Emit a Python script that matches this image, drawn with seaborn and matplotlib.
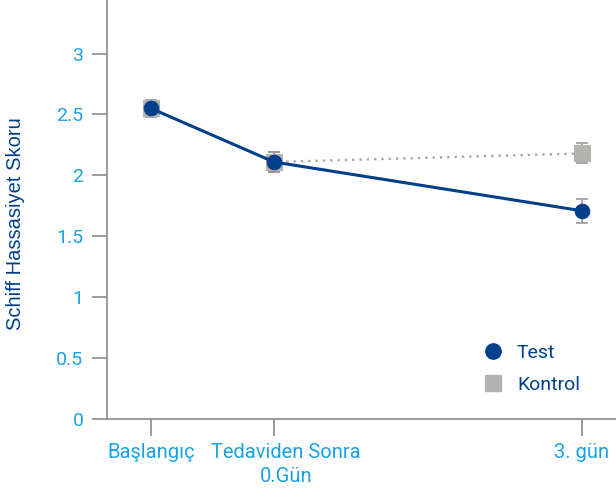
import numpy as np
import matplotlib
matplotlib.use("Agg")
import matplotlib.pyplot as plt
from matplotlib import transforms
import seaborn as sns
import pandas as pd
from matplotlib.lines import Line2D

# data
time_labels = ['Başlangıç', 'Tedaviden Sonra\n0.Gün', '3. gün']
time_pos = [0, 1, 3.5]
test_mean = [2.55, 2.11, 1.71]
test_err = [0.06, 0.08, 0.097]
kontrol_mean = [2.55, 2.11, 2.18]
kontrol_err = [0.07, 0.08, 0.082]
yticks = [0, 0.5, 1, 1.5, 2, 2.5, 3]

navy = '#00408a'
gray_sq = '#b5b3ad'
gray_line = '#a8a8a8'
tick_blue = '#1ba3e0'
spine_gray = '#8c8c8c'

sns.set_style('white')
plt.rcParams['font.family'] = ['Roboto', 'DejaVu Sans']

df = pd.DataFrame({
    'Zaman': time_pos * 2,
    'Skor': test_mean + kontrol_mean,
    'Grup': ['Test'] * 3 + ['Kontrol'] * 3,
})

fig = plt.figure(figsize=(6.16, 4.99), dpi=100)
ax = fig.add_axes([0.1737, 0.1603, 0.8263, 0.8397])

# error bars first, so markers sit on top
ax.errorbar(time_pos, kontrol_mean, yerr=kontrol_err, fmt='none', ecolor='#999999',
            elinewidth=1.2, capsize=4, capthick=1.2, zorder=2)
ax.errorbar(time_pos, test_mean, yerr=test_err, fmt='none', ecolor='#999999',
            elinewidth=1.2, capsize=4, capthick=1.2, zorder=2)

kon = df[df['Grup'] == 'Kontrol']
sns.lineplot(data=kon, x='Zaman', y='Skor', ax=ax, color=gray_line, linestyle=(0, (1, 2.1)),
             linewidth=1.7, marker='s', markersize=11, markerfacecolor=gray_sq,
             markeredgecolor=gray_sq, zorder=3)
tst = df[df['Grup'] == 'Test']
sns.lineplot(data=tst, x='Zaman', y='Skor', ax=ax, color=navy, linewidth=2.2,
             marker='o', markersize=10.5, markerfacecolor=navy, markeredgecolor=navy, zorder=4)

ax.set_xlim(-0.358, 3.78)
ax.set_ylim(0, 3.44)
ax.set_yticks(yticks)
ax.set_yticklabels([f'{t:g}' for t in yticks])
ax.set_xticks(time_pos)
ax.set_xticklabels(time_labels, linespacing=1.35)

ax.tick_params(axis='y', colors=spine_gray, labelcolor=tick_blue, labelsize=14,
               direction='out', length=11, width=1.2, pad=6, left=True)
ax.tick_params(axis='x', colors=spine_gray, labelcolor=tick_blue, labelsize=14.5,
               direction='out', length=12, width=1.2, pad=5, bottom=True)

# the middle label sits a little right of its tick in the reference
lab = ax.get_xticklabels()[1]
lab.set_transform(lab.get_transform() + transforms.ScaledTranslation(12 / 100, 0, fig.dpi_scale_trans))

for s in ['top', 'right']:
    ax.spines[s].set_visible(False)
for s in ['left', 'bottom']:
    ax.spines[s].set_color(spine_gray)
    ax.spines[s].set_linewidth(1.2)

ax.set_xlabel('')
ax.set_ylabel('Schiff Hassasiyet Skoru', color=navy, fontsize=14.5,
              family=['Liberation Sans', 'DejaVu Sans'])
ax.yaxis.set_label_coords(-0.161, 0.467)

handles = [
    Line2D([], [], linestyle='none', marker='o', markersize=11, color=navy),
    Line2D([], [], linestyle='none', marker='s', markersize=11, color='#b3b3b3'),
]
leg = ax.legend(handles, ['Test', 'Kontrol'], loc='upper left', bbox_to_anchor=(0.739, 0.18),
                frameon=False, fontsize=14, handlelength=1.0, handletextpad=0.74,
                labelspacing=0.74, borderpad=0, borderaxespad=0)
for t in leg.get_texts():
    t.set_color(navy)

fig.savefig('out.png', dpi=100)
